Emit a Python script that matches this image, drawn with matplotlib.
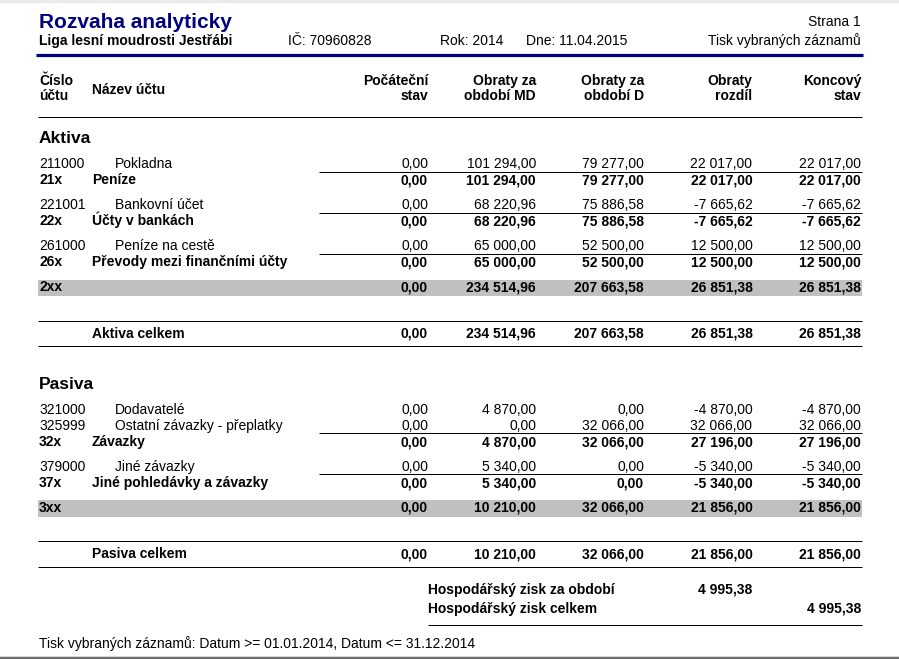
import matplotlib
matplotlib.use("Agg")
import matplotlib.pyplot as plt
from matplotlib.patches import Rectangle

plt.rcParams['font.family'] = ['Liberation Sans', 'DejaVu Sans']

# ---------------- data ----------------
title = "Rozvaha analyticky"
organizace = "Liga lesní moudrosti Jestřábi"
ico = "IČ: 70960828"
rok = "Rok: 2014"
dne = "Dne: 11.04.2015"
strana = "Strana 1"
tisk = "Tisk vybraných záznamů"
footer = "Tisk vybraných záznamů: Datum >= 01.01.2014, Datum <= 31.12.2014"

col_headers = [("Počáteční", "stav"), ("Obraty za", "období MD"), ("Obraty za", "období D"),
               ("Obraty", "rozdíl"), ("Koncový", "stav")]

aktiva_ucet = ['211000', '21x', '221001', '22x', '261000', '26x', '2xx']
aktiva_nazev = ['Pokladna', 'Peníze', 'Bankovní účet', 'Účty v bankách', 'Peníze na cestě',
                'Převody mezi finančními účty', '']
aktiva_typ = ['d', 's', 'd', 's', 'd', 's', 't']
aktiva_pocatecni = [0.00, 0.00, 0.00, 0.00, 0.00, 0.00, 0.00]
aktiva_md = [101294.00, 101294.00, 68220.96, 68220.96, 65000.00, 65000.00, 234514.96]
aktiva_d = [79277.00, 79277.00, 75886.58, 75886.58, 52500.00, 52500.00, 207663.58]
aktiva_rozdil = [22017.00, 22017.00, -7665.62, -7665.62, 12500.00, 12500.00, 26851.38]
aktiva_koncovy = [22017.00, 22017.00, -7665.62, -7665.62, 12500.00, 12500.00, 26851.38]
aktiva_celkem = [0.00, 234514.96, 207663.58, 26851.38, 26851.38]

pasiva_ucet = ['321000', '325999', '32x', '379000', '37x', '3xx']
pasiva_nazev = ['Dodavatelé', 'Ostatní závazky - přeplatky', 'Závazky', 'Jiné závazky',
                'Jiné pohledávky a závazky', '']
pasiva_typ = ['d', 'd', 's', 'd', 's', 't']
pasiva_pocatecni = [0.00, 0.00, 0.00, 0.00, 0.00, 0.00]
pasiva_md = [4870.00, 0.00, 4870.00, 5340.00, 5340.00, 10210.00]
pasiva_d = [0.00, 32066.00, 32066.00, 0.00, 0.00, 32066.00]
pasiva_rozdil = [-4870.00, 32066.00, 27196.00, -5340.00, -5340.00, 21856.00]
pasiva_koncovy = [-4870.00, 32066.00, 27196.00, -5340.00, -5340.00, 21856.00]
pasiva_celkem = [0.00, 10210.00, 32066.00, 21856.00, 21856.00]

zisk_za_obdobi = 4995.38
zisk_celkem = 4995.38

# ---------------- layout ----------------
W, H = 899, 659
fig = plt.figure(figsize=(W / 100, H / 100), dpi=100)
ax = fig.add_axes([0, 0, 1, 1])
ax.set_xlim(0, W)
ax.set_ylim(H, 0)
ax.axis('off')

FS = 10
NAVY = '#000080'
X_LEFT = 39
X_NAME_S = 92
X_NAME_D = 115
LINE_L, LINE_R = 37.5, 862
SUB_L = 319
COL_R = [428, 536, 644, 752.5, 861]
PX = 0.72  # points per pixel


def fmt(v):
    s = f"{abs(v):,.2f}".replace(',', ' ').replace('.', ',')
    return ('-' if v < 0 else '') + s


def hline(y, x0=LINE_L, x1=LINE_R, lw=1, color='black'):
    ax.plot([x0, x1], [y, y], color=color, lw=lw * PX, solid_capstyle='butt')


def txt(x, y, s, ha='left', bold=False, size=FS, color='black'):
    ax.text(x, y, s, ha=ha, va='baseline', fontsize=size,
            fontweight='bold' if bold else 'normal', color=color)


# top strip / bottom line
ax.add_patch(Rectangle((0, 0), W, 3, color='#ebebeb', lw=0))
hline(657.8, 0, W, lw=2.5, color='#6e6e6e')

# header
txt(X_LEFT, 27.7, title, bold=True, size=15, color=NAVY)
txt(861, 26, strana, ha='right')
txt(X_LEFT, 45, organizace, bold=True)
txt(287.5, 45, ico)
txt(439.5, 45, rok)
txt(526, 45, dne)
txt(861, 45, tisk, ha='right')
hline(55, 36, 862.5, lw=3.2, color=NAVY)

txt(X_LEFT, 85, "Číslo", bold=True)
txt(X_LEFT, 100, "účtu", bold=True)
txt(X_NAME_S, 94, "Název účtu", bold=True)
for (l1, l2), xr in zip(col_headers, COL_R):
    txt(xr, 85, l1, ha='right', bold=True)
    txt(xr, 100, l2, ha='right', bold=True)
hline(116.7)


def section(y_head, name, ucet, nazev, typ, cols, total_label, total_vals):
    txt(X_LEFT, y_head, name, bold=True, size=12.5)
    y = y_head + 25.3
    prev = None
    for i, t in enumerate(typ):
        if t == 'd':
            if prev == 'd':
                y += 16
            elif prev == 's':
                y += 25
            vals = [c[i] for c in cols]
            txt(X_LEFT, y, ucet[i])
            txt(X_NAME_D, y, nazev[i])
            for v, xr in zip(vals, COL_R):
                txt(xr, y, fmt(v), ha='right')
            if i + 1 < len(typ) and typ[i + 1] == 's':
                hline(y + 3.2, SUB_L, LINE_R)
        elif t == 's':
            y += 16
            txt(X_LEFT, y, ucet[i], bold=True)
            txt(X_NAME_S, y, nazev[i], bold=True)
            for c, xr in zip(cols, COL_R):
                txt(xr, y, fmt(c[i]), ha='right', bold=True)
        else:
            top = y + 13.3
            ax.add_patch(Rectangle((LINE_L, top), LINE_R - LINE_L, 16.5,
                                   color='#c0c0c0', lw=0))
            y = top + 11.5
            txt(X_LEFT, y, ucet[i], bold=True)
            for c, xr in zip(cols, COL_R):
                txt(xr, y, fmt(c[i]), ha='right', bold=True)
            y = top + 16.5
        prev = t
    yl = y + 24.5
    hline(yl)
    yb = yl + 17
    txt(X_NAME_S, yb, total_label, bold=True)
    for v, xr in zip(total_vals, COL_R):
        txt(xr, yb, fmt(v), ha='right', bold=True)
    hline(yb + 8.5)
    return yb + 8.5


y_end = section(143, "Aktiva", aktiva_ucet, aktiva_nazev, aktiva_typ,
                [aktiva_pocatecni, aktiva_md, aktiva_d, aktiva_rozdil, aktiva_koncovy],
                "Aktiva celkem", aktiva_celkem)
y_end = section(y_end + 42.7, "Pasiva", pasiva_ucet, pasiva_nazev, pasiva_typ,
                [pasiva_pocatecni, pasiva_md, pasiva_d, pasiva_rozdil, pasiva_koncovy],
                "Pasiva celkem", pasiva_celkem)

y1 = y_end + 26.7
txt(428, y1, "Hospodářský zisk za období", bold=True)
txt(COL_R[3], y1, fmt(zisk_za_obdobi), ha='right', bold=True)
y2 = y1 + 19
txt(428, y2, "Hospodářský zisk celkem", bold=True)
txt(COL_R[4], y2, fmt(zisk_celkem), ha='right', bold=True)
hline(y2 + 12.3, 428, LINE_R)
txt(X_LEFT, y2 + 35, footer)

fig.savefig("out.png", dpi=100)
